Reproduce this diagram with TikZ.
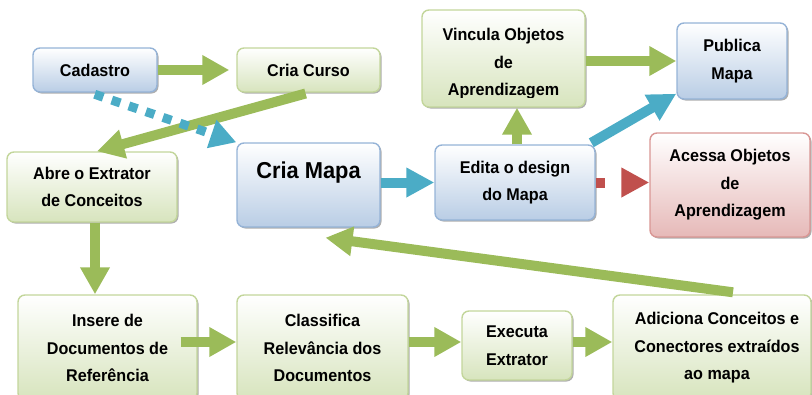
\documentclass[tikz,border=0pt]{standalone}
\usepackage{fontspec}
\setmainfont{Liberation Sans}[FakeStretch=0.95]
\usetikzlibrary{arrows.meta,shadows,calc}
\definecolor{bB}{HTML}{95B3D7}
\definecolor{bF}{HTML}{B9CDE5}
\definecolor{gB}{HTML}{C3D69B}
\definecolor{gF}{HTML}{D7E4BD}
\definecolor{rB}{HTML}{D99694}
\definecolor{rF}{HTML}{E6B9B8}
\definecolor{aG}{HTML}{9BBB59}
\definecolor{aB}{HTML}{4BACC6}
\definecolor{aR}{HTML}{C0504D}
\tikzset{
  cbox/.style={rectangle, rounded corners=7pt, line width=1.4pt, inner sep=0pt,
    drop shadow={shadow xshift=1.5pt, shadow yshift=-1.5pt, fill=black!70, opacity=.45}},
  bluebox/.style={cbox, draw=bB, top color=white, bottom color=bF},
  greenbox/.style={cbox, draw=gB, top color=white, bottom color=gF},
  redbox/.style={cbox, draw=rB, top color=white, bottom color=rF},
  txt/.style={font=\fontsize{17}{27.5}\selectfont\bfseries, align=center, text=black, inner sep=0pt},
  garrow/.style={draw=aG, line width=10pt, -{Triangle[length=27pt,width=28pt,fill=aG]}},
  barrow/.style={draw=aB, line width=10pt, -{Triangle[length=28pt,width=28pt,fill=aB]}},
  rarrow/.style={draw=aR, line width=10pt, dash pattern=on 9pt off 40pt, -{Triangle[length=28pt,width=28pt,fill=aR]}},
  bdots/.style={draw=aB, line width=9pt, dash pattern=on 9pt off 9pt, -{Triangle[length=26pt,width=28pt,fill=aB]}},
}
\begin{document}
\begin{tikzpicture}[x=1pt,y=-1pt]
\useasboundingbox (0,0) rectangle (812,394);
\clip (0,0) rectangle (812,394);
% boxes
\node[bluebox, minimum width=124pt, minimum height=44pt, txt] (cad) at (95,70) {Cadastro};
\node[greenbox, minimum width=143pt, minimum height=44pt, txt] (curso) at (308.5,70) {Cria Curso};
\node[greenbox, minimum width=163pt, minimum height=97pt] (vinc) at (503.5,58.5) {};
\begin{scope}
  \clip (vinc.north west) rectangle ([yshift=10pt]vinc.south east);
  \node[txt] (vinct) at (503.5,64) {Vincula Objetos\\de\\Aprendizagem};
\end{scope}
\node[bluebox, minimum width=110pt, minimum height=76pt, txt] (pub) at (732,61) {Publica\\Mapa};
\node[greenbox, minimum width=170pt, minimum height=70pt, txt] (abre) at (92,187) {Abre o Extrator\\de Conceitos};
\node[bluebox, minimum width=143pt, minimum height=84pt] (mapa) at (308.5,185) {};
\node[txt, font=\fontsize{23}{27}\selectfont\bfseries] (mapat) at (308.5,173) {Cria Mapa};
\node[bluebox, minimum width=160pt, minimum height=75pt, txt] (edita) at (515,182.5) {Edita o design\\do Mapa};
\node[redbox, minimum width=160pt, minimum height=104pt, txt] (acessa) at (730,185) {Acessa Objetos\\de\\Aprendizagem};
\node[greenbox, minimum width=179pt, minimum height=105pt] (ins) at (107.5,347.5) {};
\node[txt] (inst) at (107.5,348) {Insere de\\Documentos de\\Referência};
\node[greenbox, minimum width=171pt, minimum height=105pt] (cls) at (322.5,347.5) {};
\node[txt] (clst) at (322.5,348) {Classifica\\Relevância dos\\Documentos};
\node[greenbox, minimum width=110pt, minimum height=69pt, txt] (exec) at (517,345.5) {Executa\\Extrator};
\node[greenbox, minimum width=198pt, minimum height=105pt] (adic) at (712,347.5) {};
\node[txt] (adict) at (717,348) {Adiciona Conceitos e\\Conectores extraídos\\ao mapa};
\coordinate (row) at (0,342);
% arrows
\draw[garrow, shorten >=7pt] (cad.east) -- (curso.west);
\draw[garrow, shorten <=3pt] (curso.south) -- ([xshift=5pt]abre.north);
\draw[bdots, shorten <=5pt] ([xshift=-5pt]cad.south) -- (mapa.north west);
\draw[garrow] ([xshift=3pt]abre.south) -- ([xshift=3pt]abre.south |- ins.north);
\draw[garrow, shorten <=-17pt] (ins.east |- row) -- (cls.west |- row);
\draw[garrow] (cls.east |- row) -- (exec.west |- row);
\draw[garrow] (exec.east |- row) -- (adic.west |- row);
\draw[garrow] ([xshift=21pt,yshift=2pt]adic.north) -- ([xshift=17pt,yshift=-10pt]mapa.south);
\draw[barrow] (mapa.east |- edita.west) -- (edita.west);
\draw[garrow] ([xshift=2pt]edita.north) -- ([xshift=2pt]edita.north |- vinc.south);
\draw[garrow] (vinc.east |- pub.west) -- (pub.west);
\draw[barrow, shorten <=3pt] ([xshift=-7pt]edita.north east) -- ([yshift=6pt]pub.south west);
\draw[rarrow] (edita.east) -- (acessa.west |- edita.east);
\end{tikzpicture}
\end{document}
